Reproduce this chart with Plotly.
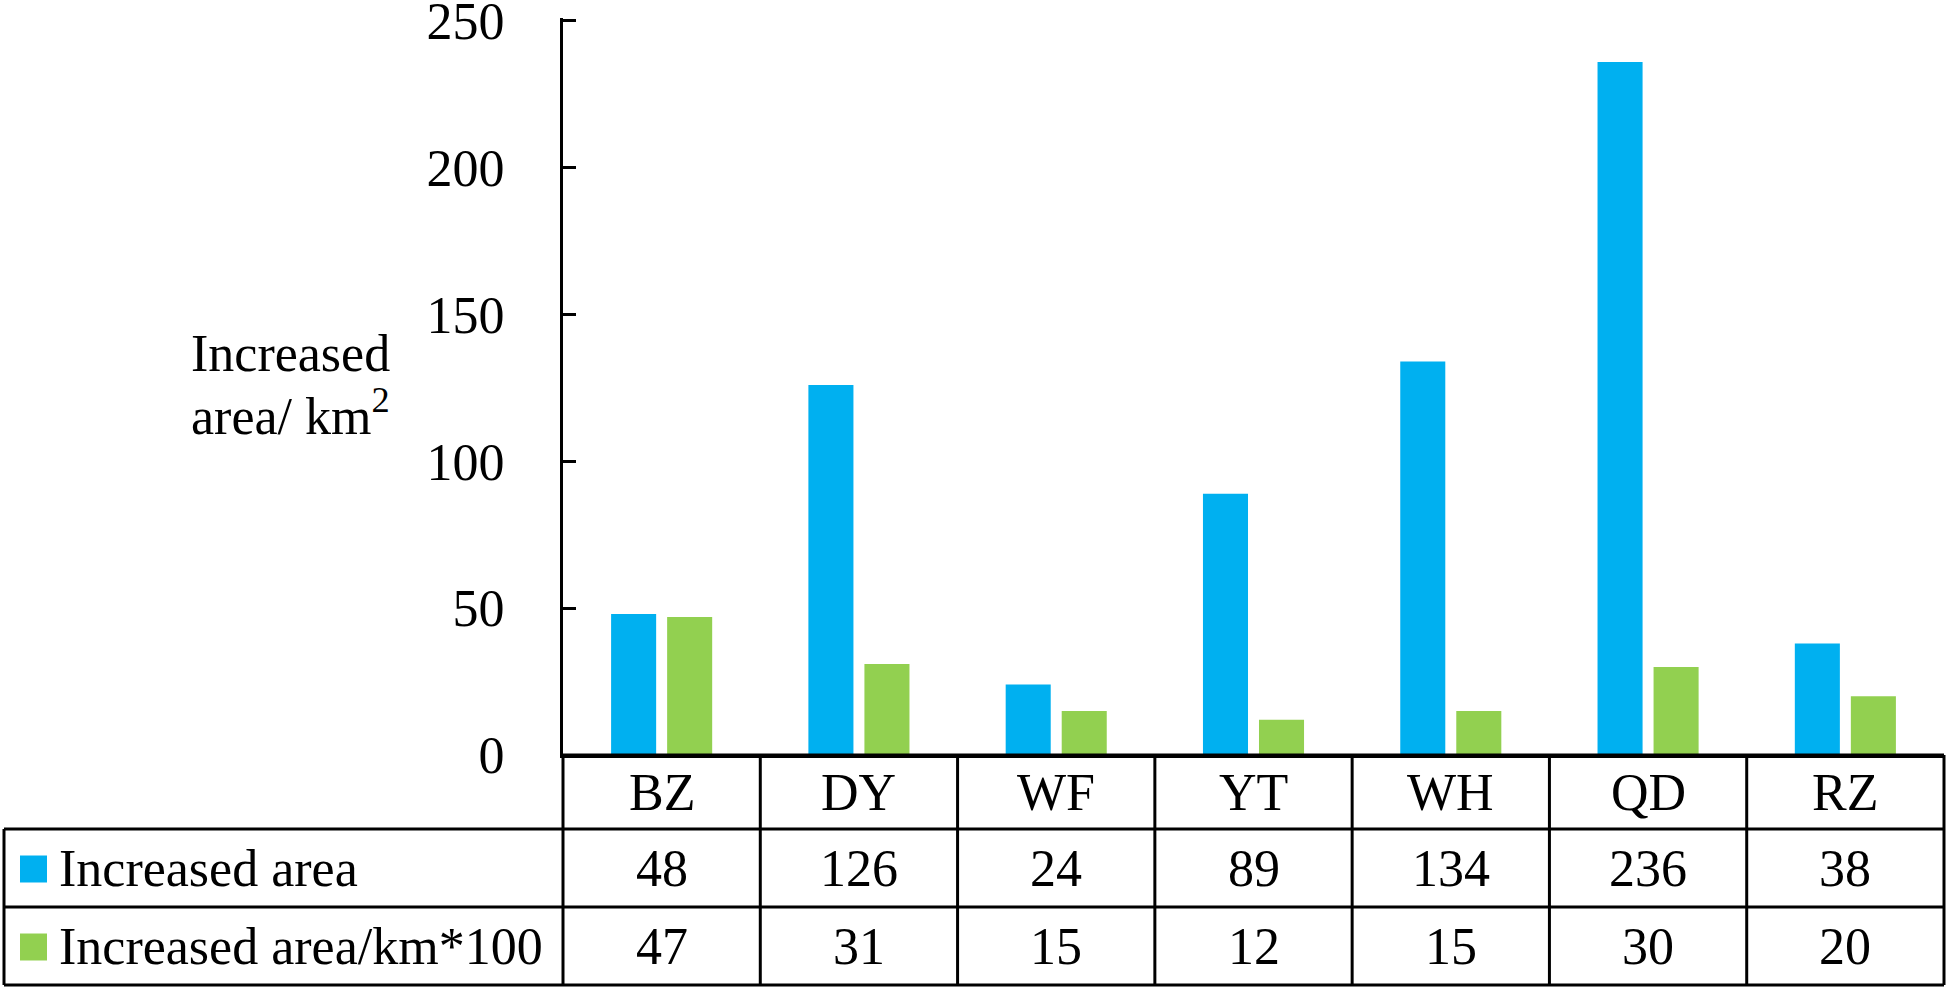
import plotly.graph_objects as go

categories = ["BZ", "DY", "WF", "YT", "WH", "QD", "RZ"]
increased_area = [48, 126, 24, 89, 134, 236, 38]
increased_area_km = [47, 31, 15, 12, 15, 30, 20]
series_names = ["Increased area", "Increased area/km*100"]
series_colors = ["#00B0F0", "#92D050"]
y_ticks = [0, 50, 100, 150, 200, 250]

W, H = 1949, 991
L, R, T, B = 563, 5, 18, 236
PW, PH = W - L - R, H - T - B
FONT = "Liberation Serif"
FS = 52


def px(x):
    return (x - L) / PW


def py(y):
    return (H - B - y) / PH


fig = go.Figure()
for name, vals, col in zip(series_names, [increased_area, increased_area_km], series_colors):
    fig.add_trace(go.Bar(x=categories, y=vals, name=name, marker=dict(color=col, line=dict(width=0))))

fig.update_layout(
    width=W, height=H,
    margin=dict(l=L, r=R, t=T, b=B, pad=0, autoexpand=False),
    paper_bgcolor="white", plot_bgcolor="white",
    barmode="group", bargap=0.432, bargroupgap=0.196,
    showlegend=False,
    font=dict(family=FONT, size=FS, color="black"),
)
fig.update_xaxes(range=[-0.5, len(categories) - 0.5], showticklabels=False, showgrid=False,
                 zeroline=False, showline=True, linecolor="black", linewidth=3, ticks="",
                 automargin=False)
fig.update_yaxes(range=[0, 251], tickvals=y_ticks, ticktext=[str(v) for v in y_ticks],
                 showgrid=False, zeroline=False, automargin=False,
                 showline=True, linecolor="black", linewidth=3, ticks="inside", ticklen=13,
                 tickwidth=3, tickcolor="black", ticklabelstandoff=45, ticklabeloverflow="allow",
                 tickfont=dict(family=FONT, size=FS, color="black"))

# Y title
fig.add_annotation(text="Increased", xref="paper", yref="paper", x=px(392), y=py(353),
                   xanchor="right", yanchor="middle", showarrow=False)
fig.add_annotation(text="area/ km<sup>2</sup>", xref="paper", yref="paper", x=px(392), y=py(412),
                   xanchor="right", yanchor="middle", showarrow=False)

line = dict(color="black", width=3)
rows_y = [755, 829, 907, 985]
n = len(categories)
# horizontal table lines
fig.add_shape(type="line", xref="paper", yref="paper", x0=0, x1=1, y0=py(rows_y[0]), y1=py(rows_y[0]), line=line)
for yy in rows_y[1:]:
    fig.add_shape(type="line", xref="paper", yref="paper", x0=px(4), x1=1, y0=py(yy), y1=py(yy), line=line)
# vertical lines
for k in range(n + 1):
    fig.add_shape(type="line", xref="paper", yref="paper", x0=k / n, x1=k / n,
                  y0=py(rows_y[0]), y1=py(rows_y[-1]), line=line)
fig.add_shape(type="line", xref="paper", yref="paper", x0=px(4), x1=px(4),
              y0=py(rows_y[1]), y1=py(rows_y[-1]), line=line)

row_centers = [(rows_y[i] + rows_y[i + 1]) / 2 for i in range(3)]
for i, c in enumerate(categories):
    xc = (i + 0.5) / n
    fig.add_annotation(text=c, xref="paper", yref="paper", x=xc, y=py(row_centers[0]),
                       xanchor="center", yanchor="middle", showarrow=False)
    for r, vals in enumerate([increased_area, increased_area_km]):
        fig.add_annotation(text=str(vals[i]), xref="paper", yref="paper", x=xc, y=py(row_centers[r + 1]),
                           xanchor="center", yanchor="middle", showarrow=False)

# legend keys in table
for r, (name, col) in enumerate(zip(series_names, series_colors)):
    yc = row_centers[r + 1]
    fig.add_shape(type="rect", xref="paper", yref="paper", x0=px(20), x1=px(47),
                  y0=py(yc - 13.5 + 1), y1=py(yc + 13.5 + 1), fillcolor=col, line=dict(width=0))
    fig.add_annotation(text=name, xref="paper", yref="paper", x=px(57), y=py(yc),
                       xanchor="left", yanchor="middle", showarrow=False)

fig.write_html("out.html", config={"displayModeBar": False},
               post_script="document.body.style.margin='0';document.body.style.overflow='hidden';")
